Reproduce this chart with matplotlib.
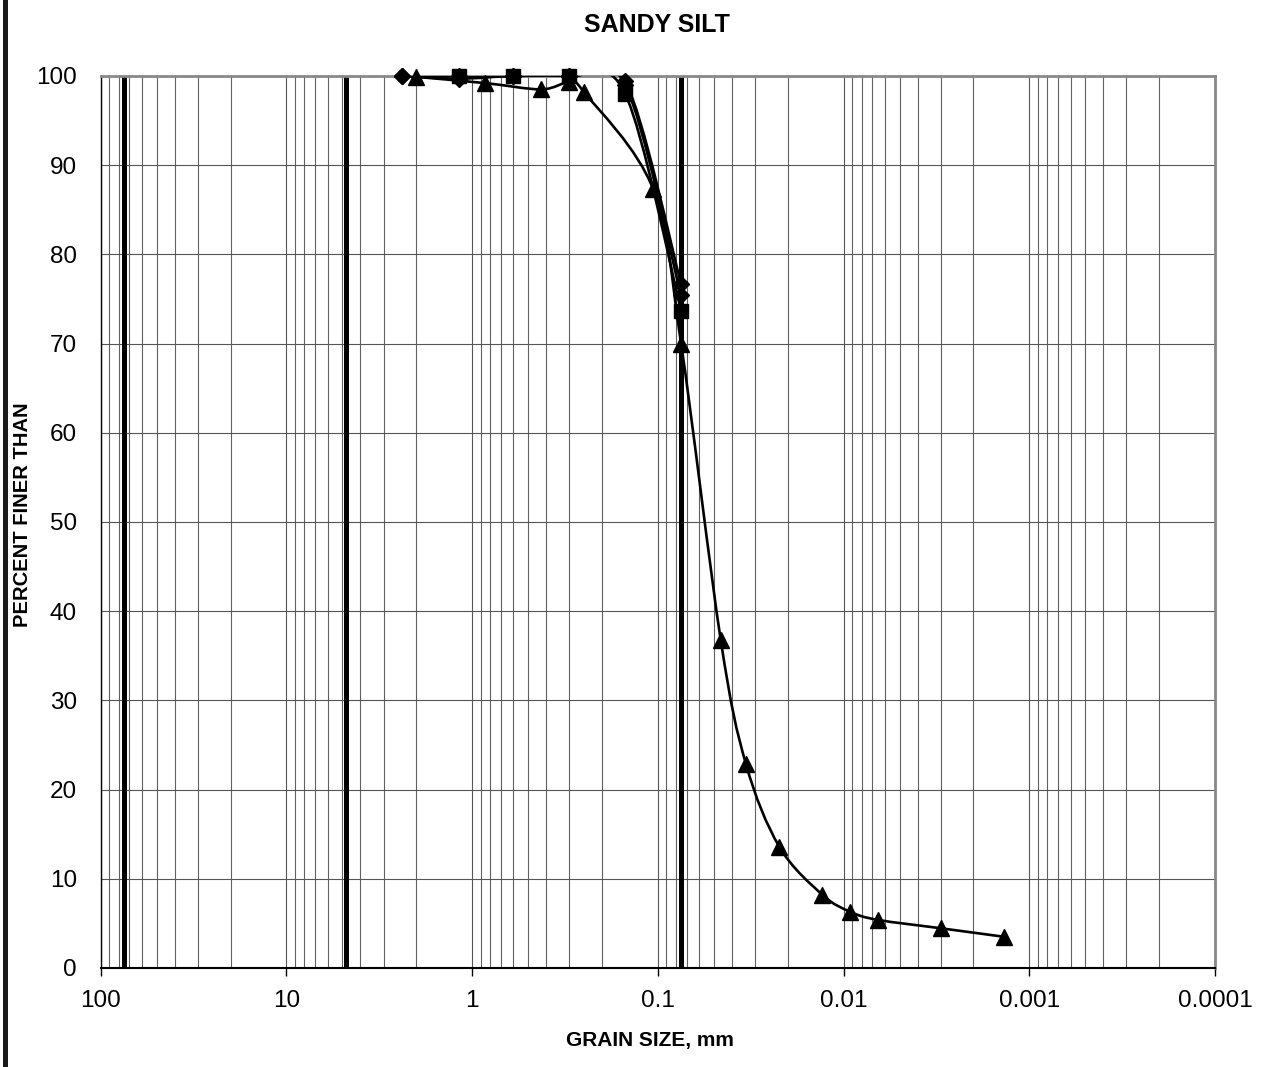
import numpy as np
import matplotlib
matplotlib.use("Agg")
import matplotlib.pyplot as plt
from matplotlib.path import Path
from matplotlib.patches import PathPatch, Rectangle
from matplotlib.ticker import LogLocator, FixedLocator, NullFormatter

plt.rcParams['font.family'] = ['Liberation Sans', 'DejaVu Sans']

# sieve / hydrometer data (grain size mm, percent finer)
size_a = [2.38, 1.18, 0.6, 0.3, 0.15, 0.075]
pct_a = [100.0, 99.7, 100.0, 100.0, 99.4, 76.7]

size_b = [2.38, 1.18, 0.6, 0.3, 0.15, 0.075]
pct_b = [100.0, 100.0, 100.0, 100.0, 99.0, 75.4]

size_sq = [1.18, 0.6, 0.3, 0.15, 0.075]
pct_sq = [100.0, 100.0, 100.0, 98.0, 73.7]

size_tri = [2.0, 0.85, 0.425, 0.30, 0.25, 0.106, 0.075,
            0.0459, 0.0336, 0.0222, 0.0130, 0.0092, 0.00656, 0.00299, 0.00137]
pct_tri = [99.9, 99.2, 98.5, 99.3, 98.2, 87.3, 70.0,
           36.8, 22.9, 13.6, 8.2, 6.3, 5.4, 4.45, 3.5]

# boundary lines: gravel/cobble, gravel/sand, sand/fines
bounds = [75, 4.75, 0.075]

x_ticks = [100, 10, 1, 0.1, 0.01, 0.001, 0.0001]
x_labels = ["100", "10", "1", "0.1", "0.01", "0.001", "0.0001"]


def smooth_path(xs, ys):
    # Excel style smoothed line: cubic bezier through points, built in log-x space
    lx = np.log10(xs)
    y = np.asarray(ys, float)
    n = len(lx)
    verts = [(lx[0], y[0])]
    codes = [Path.MOVETO]
    for i in range(n - 1):
        p0 = (lx[max(i - 1, 0)], y[max(i - 1, 0)])
        p1 = (lx[i], y[i])
        p2 = (lx[i + 1], y[i + 1])
        p3 = (lx[min(i + 2, n - 1)], y[min(i + 2, n - 1)])
        c1 = (p1[0] + (p2[0] - p0[0]) / 6, p1[1] + (p2[1] - p0[1]) / 6)
        c2 = (p2[0] - (p3[0] - p1[0]) / 6, p2[1] - (p3[1] - p1[1]) / 6)
        verts += [c1, c2, p2]
        codes += [Path.CURVE4] * 3
    verts = [(10 ** vx, vy) for vx, vy in verts]
    return Path(verts, codes)


fig = plt.figure(figsize=(12.67, 10.67), dpi=100)
ax = fig.add_axes([0.0795, 0.0928, 0.8795, 0.836])
ax.set_xscale('log')
ax.set_xlim(100, 0.0001)
ax.set_ylim(0, 100)

# grid
ax.xaxis.set_major_locator(FixedLocator(x_ticks))
ax.set_xticklabels(x_labels)
ax.xaxis.set_minor_locator(LogLocator(base=10, subs=np.arange(2, 10), numticks=20))
ax.xaxis.set_minor_formatter(NullFormatter())
ax.set_yticks(np.arange(0, 101, 10))
ax.grid(True, which='major', axis='both', color='#555555', linewidth=0.8)
ax.grid(True, which='minor', axis='x', color='#606060', linewidth=0.8)
ax.set_axisbelow(True)

for b in bounds:
    ax.axvline(b, color='black', linewidth=3.6, zorder=2)

for xs, ys in [(size_a, pct_a), (size_b, pct_b), (size_sq, pct_sq), (size_tri, pct_tri)]:
    ax.add_patch(PathPatch(smooth_path(xs, ys), facecolor='none', edgecolor='black',
                           linewidth=1.9, zorder=3))

ax.plot(size_tri, pct_tri, linestyle='none', marker='^', markersize=11, color='black', zorder=4, clip_on=False)
ax.plot(size_sq, pct_sq, linestyle='none', marker='s', markersize=10, color='black', zorder=4, clip_on=False)
ax.plot(size_b, pct_b, linestyle='none', marker='D', markersize=8.5, color='black', zorder=4, clip_on=False)
ax.plot(size_a, pct_a, linestyle='none', marker='D', markersize=8.5, color='black', zorder=4, clip_on=False)

# frame
ax.spines['top'].set_color('#888888')
ax.spines['right'].set_color('#888888')
ax.spines['top'].set_linewidth(2)
ax.spines['right'].set_linewidth(2)
ax.spines['left'].set_color('black')
ax.spines['left'].set_linewidth(1)
ax.spines['bottom'].set_color('black')
ax.spines['bottom'].set_linewidth(1.5)

ax.tick_params(axis='x', which='major', direction='out', length=6, width=1, pad=10, labelsize=17.5)
ax.tick_params(axis='x', which='minor', length=0)
ax.tick_params(axis='y', length=0, pad=17, labelsize=17.5)

fig.text(0.5187, 0.977, "SANDY SILT", ha='center', va='center', fontsize=18, fontweight='bold')
fig.text(0.513, 0.025, "GRAIN SIZE, mm", ha='center', va='center', fontsize=15, fontweight='bold')
fig.text(0.0175, 0.518, "PERCENT FINER THAN", ha='center', va='center', rotation=90,
         fontsize=14.5, fontweight='bold')

# left border bar
fig.patches.append(Rectangle((0.0026, 0.0), 0.0040, 1.0, transform=fig.transFigure,
                             facecolor='#1a1a1a', edgecolor='none'))

fig.savefig("out.png", dpi=100)
